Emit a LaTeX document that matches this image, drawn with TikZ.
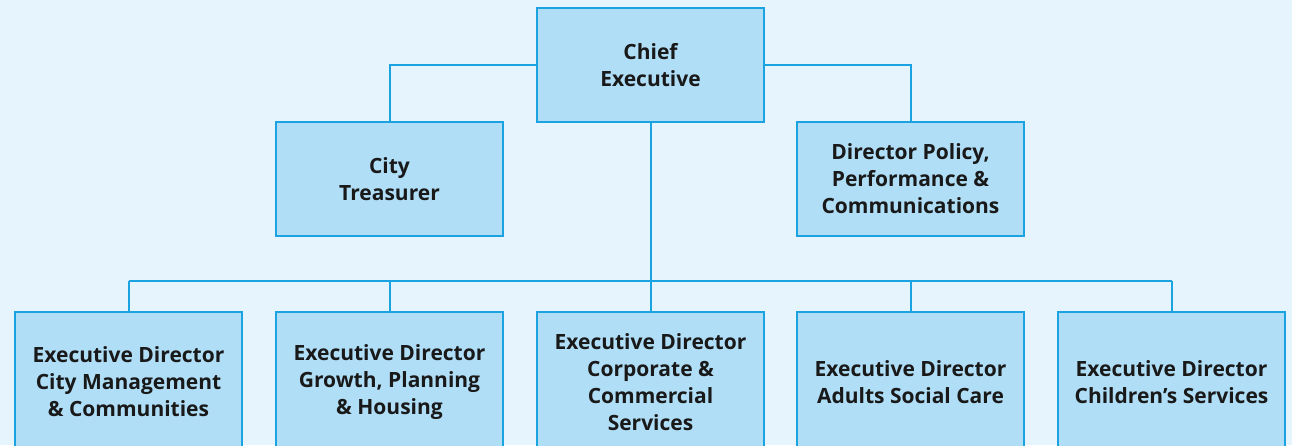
\documentclass[tikz,border=0pt]{standalone}
\usepackage{fontspec}
\setmainfont{Open Sans}
\definecolor{bgc}{HTML}{E6F4FD}
\definecolor{boxfill}{HTML}{B0DEF7}
\definecolor{boxline}{HTML}{1AA3E0}
\tikzset{
  orgbox/.style={draw=boxline, fill=boxfill, line width=2pt, minimum width=227pt, minimum height=114pt, inner sep=0pt, align=center, font=\fontsize{21}{27}\selectfont\bfseries, text=black!90},
  tallbox/.style={orgbox, minimum height=140pt},
  conn/.style={draw=boxline, line width=2pt}
}
\begin{document}
\begin{tikzpicture}[x=1pt,y=-1pt]
\useasboundingbox[fill=bgc] (0,0) rectangle (1292,445);
\begin{scope}
\clip (0,0) rectangle (1292,445);
\node[orgbox] (ce) at (650.5,65) {Chief\\Executive};
\node[orgbox] (ct) at (389.5,179) {City\\Treasurer};
\node[orgbox] (dp) at (910.5,179) {Director Policy,\\Performance \&\\Communications};
\coordinate (hb) at (650.5,281);
\node[tallbox, anchor=north] (b1) at (128.5,311) {Executive Director\\City Management\\\& Communities};
\node[tallbox, anchor=north] (b2) at (389.5,311) {Executive Director\\Growth, Planning\\\& Housing};
\node[tallbox, anchor=north] (b3) at (650.5,311) {Executive Director\\Corporate \&\\Commercial\\Services};
\node[tallbox, anchor=north] (b4) at (910.5,311) {Executive Director\\Adults Social Care};
\node[tallbox, anchor=north] (b5) at (1171.5,311) {Executive Director\\Children’s Services};
\draw[conn] (ce.west) -| (ct.north);
\draw[conn] (ce.east) -| (dp.north);
\draw[conn] (ce.south) -- (hb);
\draw[conn] (b1.north |- hb) -- (b5.north |- hb);
\foreach \b in {b1,b2,b3,b4,b5}{\draw[conn] (\b.north |- hb) -- (\b.north);}
\end{scope}
\end{tikzpicture}
\end{document}
